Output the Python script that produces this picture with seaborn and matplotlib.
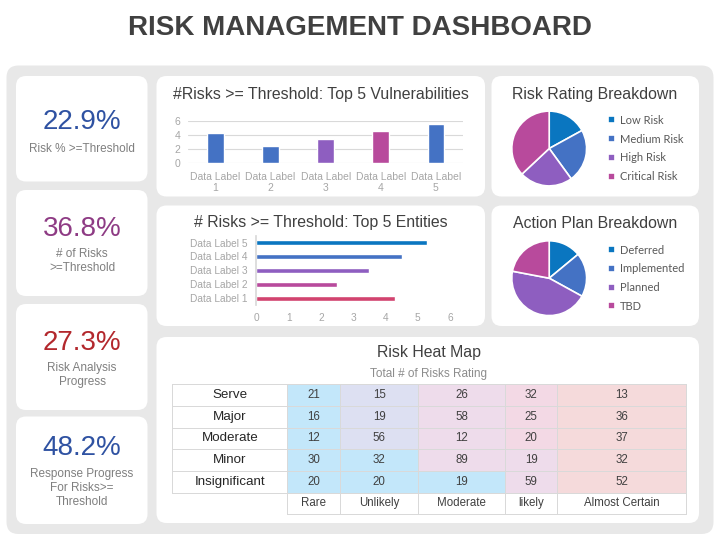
import numpy as np
import matplotlib.pyplot as plt
from matplotlib.patches import FancyBboxPatch
from matplotlib.colors import ListedColormap
import seaborn as sns

# KPI cards
kpi_values = ["22.9%", "36.8%", "27.3%", "48.2%"]
kpi_labels = ["Risk % >=Threshold", "# of Risks\n>=Threshold",
              "Risk Analysis\nProgress", "Response Progress\nFor Risks>=\nThreshold"]
kpi_colors = ["#2F52A2", "#8E3B84", "#B3282D", "#2F52A2"]

# top 5 vulnerabilities
vuln_labels = ["Data Label\n1", "Data Label\n2", "Data Label\n3", "Data Label\n4", "Data Label\n5"]
vuln_values = [4.3, 2.4, 3.4, 4.5, 5.5]
vuln_colors = ["#4472C4", "#4472C4", "#8E5EC0", "#B84A9C", "#4472C4"]

# top 5 entities (listed top to bottom)
entity_labels = ["Data Label 5", "Data Label 4", "Data Label 3", "Data Label 2", "Data Label 1"]
entity_values = [5.3, 4.5, 3.5, 2.5, 4.3]
entity_colors = ["#0A76C0", "#4472C4", "#8E5EC0", "#B84A9C", "#D2436F"]

# pies
rating_labels = ["Low Risk", "Medium Risk", "High Risk", "Critical Risk"]
rating_values = [17, 23, 23, 37]
plan_labels = ["Deferred", "Implemented", "Planned", "TBD"]
plan_values = [14, 19, 45, 22]
pie_colors = ["#0A76C0", "#4472C4", "#8E5EC0", "#B84A9C"]

# heat map
impact = ["Serve", "Major", "Moderate", "Minor", "Insignificant"]
likelihood = ["Rare", "Unlikely", "Moderate", "likely", "Almost Certain"]
risk_counts = [[21, 15, 26, 32, 13],
               [16, 19, 58, 25, 36],
               [12, 56, 12, 20, 37],
               [30, 32, 89, 19, 32],
               [20, 20, 19, 59, 52]]
risk_levels = [[1, 2, 3, 4, 5],
               [1, 2, 3, 4, 5],
               [1, 2, 3, 4, 5],
               [1, 1, 3, 3, 5],
               [1, 1, 1, 3, 5]]
level_colors = ["#FFFFFF", "#C3E7FA", "#DDE0F2", "#EEDCEB", "#F3D9E5", "#F5DADB"]

sns.set_theme(style="white")
plt.rcParams['font.family'] = ['Liberation Sans', 'DejaVu Sans']

W, H = 720, 540
DARK = "#404040"
GREY = "#A6A6A6"
TITLE_SIZE = 11.4


def box(x0, y0, x1, y1):
    """pixel box (top-left origin) -> figure fraction rect"""
    return [x0 / W, 1 - y1 / H, (x1 - x0) / W, (y1 - y0) / H]


fig = plt.figure(figsize=(7.2, 5.4), dpi=100)
bg = fig.add_axes([0, 0, 1, 1])
bg.set_xlim(0, W)
bg.set_ylim(H, 0)
bg.axis('off')


def card(x0, y0, x1, y1, color='white', r=10):
    bg.add_patch(FancyBboxPatch((x0, y0), x1 - x0, y1 - y0,
                                boxstyle=f"round,pad=0,rounding_size={r}",
                                fc=color, ec='none'))


card(6.5, 65.5, 713.5, 534, color="#E8E8E8", r=12)
kpi_boxes = [(76, 181.5), (190, 296), (304, 410), (416.5, 524)]
for y0, y1 in kpi_boxes:
    card(16, y0, 147.5, y1)
card(156.5, 76, 485, 196.5)
card(156.5, 205.5, 485, 326)
card(491.5, 76, 699, 196.5)
card(491.5, 205.5, 699, 326)
card(156.5, 337, 699, 523)

bg.text(360, 28, "RISK MANAGEMENT DASHBOARD", ha='center', va='center',
        fontsize=20, fontweight='bold', color=DARK)

# KPI text
value_y = [122, 228.5, 343, 448]
label_y = [148.5, 261, 375, 488]
for v, lab, c, vy, ly in zip(kpi_values, kpi_labels, kpi_colors, value_y, label_y):
    bg.text(82, vy, v, ha='center', va='center', fontsize=20, color=c)
    bg.text(82, ly, lab, ha='center', va='center', fontsize=8.5,
            color="#7F7F7F", linespacing=1.2)

# vertical bar chart
bg.text(321, 95, "#Risks >= Threshold: Top 5 Vulnerabilities", ha='center',
        va='center', fontsize=TITLE_SIZE, color=DARK)
ax1 = fig.add_axes(box(188, 120.7, 463.3, 162.7))
sns.barplot(x=vuln_labels, y=vuln_values, hue=vuln_labels, palette=vuln_colors,
            legend=False, width=0.3, saturation=1, ax=ax1)
ax1.set_xlim(-0.5, 4.5)
ax1.set_ylim(0, 6)
ax1.set_yticks([0, 2, 4, 6])
ax1.yaxis.grid(True, color="#D9D9D9", lw=0.8)
ax1.set_axisbelow(True)
ax1.patch.set_alpha(0)
sns.despine(ax=ax1, left=True, bottom=True)
ax1.tick_params(length=0, colors=GREY, labelsize=7.5, pad=5.5)
ax1.tick_params(axis='x', pad=7)
for t in ax1.get_xticklabels():
    t.set_linespacing(1.1)

# horizontal bar chart
bg.text(321, 222, "# Risks >= Threshold: Top 5 Entities", ha='center',
        va='center', fontsize=TITLE_SIZE, color=DARK)
ax2 = fig.add_axes(box(256.3, 235.7, 450, 305))
sns.barplot(x=entity_values, y=entity_labels, hue=entity_labels, palette=entity_colors,
            legend=False, width=0.36, saturation=1, orient='h', ax=ax2)
ax2.set_xlim(0, 6)
ax2.set_ylim(4.5, -0.5)
ax2.set_xticks(range(7))
ax2.patch.set_alpha(0)
sns.despine(ax=ax2, bottom=True)
ax2.spines['left'].set_color("#D9D9D9")
ax2.tick_params(length=0, colors=GREY, labelsize=7.3, pad=6)
ax2.set_xlabel("")
ax2.set_ylabel("")


# pies
def pie(values, labels, cy, title, ty):
    bg.text(595, ty, title, ha='center', va='center', fontsize=TITLE_SIZE, color=DARK)
    r = 37.4
    ax = fig.add_axes(box(549.2 - r, cy - r, 549.2 + r, cy + r))
    wedges, _ = ax.pie(values, colors=pie_colors, startangle=90, counterclock=False,
                       wedgeprops=dict(edgecolor='white', linewidth=1.2))
    ax.set_xlim(-1, 1)
    ax.set_ylim(-1, 1)
    ax.legend(wedges, labels, loc='center left', bbox_to_anchor=(608, cy),
              bbox_transform=bg.transData, frameon=False, borderpad=0,
              borderaxespad=0, handlelength=0.6, handleheight=0.6,
              handletextpad=0.45, labelspacing=0.7,
              prop=dict(family='Lato', size=8), labelcolor="#595959")


pie(rating_values, rating_labels, 148.5, "Risk Rating Breakdown", 95)
pie(plan_values, plan_labels, 278.2, "Action Plan Breakdown", 223)

# heat map
bg.text(429, 353, "Risk Heat Map", ha='center', va='center', fontsize=TITLE_SIZE, color=DARK)
bg.text(429, 374, "Total # of Risks Rating", ha='center', va='center',
        fontsize=8.5, color="#8C8C8C")

cmap = ListedColormap(level_colors)
col_edges = [172.3, 287.3, 340.3, 418.3, 505.3, 557.3, 686.3]
row_top, row_h = 384.3, 21.67
for j in range(6):
    if j == 0:
        # row label column has no cell under it
        lev = [0] * 5
        txt = list(impact)
        kw = dict(fontsize=9.6, color="#262626")
    else:
        lev = [risk_levels[i][j - 1] for i in range(5)] + [0]
        txt = [str(risk_counts[i][j - 1]) for i in range(5)] + [likelihood[j - 1]]
        kw = dict(fontsize=8.3, color=DARK)
    n = len(lev)
    ax = fig.add_axes(box(col_edges[j], row_top, col_edges[j + 1], row_top + n * row_h))
    sns.heatmap(np.array(lev).reshape(n, 1),
                annot=np.array(txt, dtype=object).reshape(n, 1), fmt='',
                cmap=cmap, vmin=-0.5, vmax=5.5, cbar=False,
                linewidths=0.6, linecolor="#D9D9D9", annot_kws=kw,
                xticklabels=False, yticklabels=False, ax=ax)
    ax.collections[0].set_clip_on(False)

fig.savefig("out.png", dpi=100)
